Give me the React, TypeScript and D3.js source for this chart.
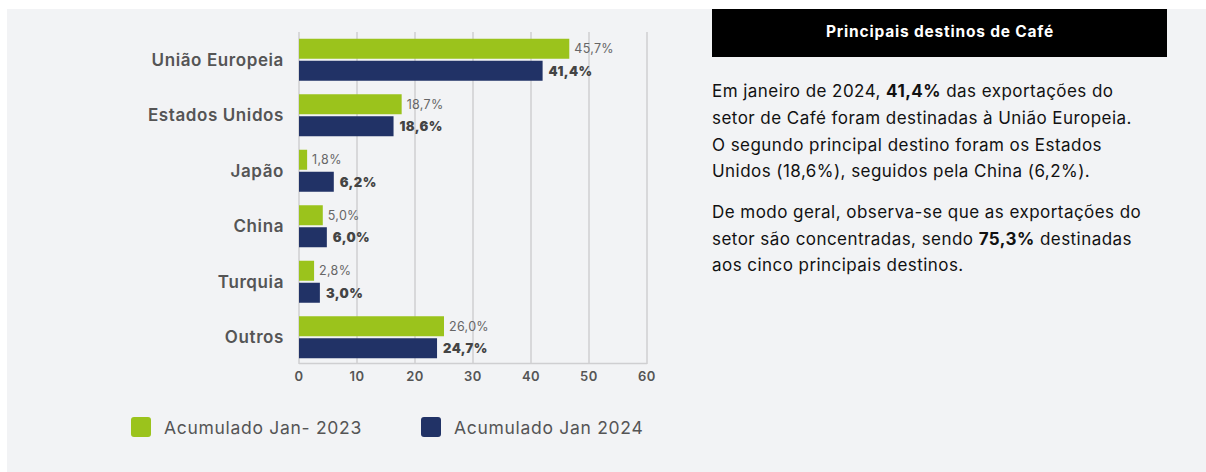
import React from 'react';
import { scaleLinear, scaleBand } from 'd3';

// destinos e valores (barras, rótulos como aparecem)
const categories = ['União Europeia', 'Estados Unidos', 'Japão', 'China', 'Turquia', 'Outros'];
const values2023 = [46.6, 17.7, 1.4, 4.1, 2.6, 25.0];
const values2024 = [42.0, 16.3, 6.0, 4.8, 3.6, 23.8];
const labels2023 = ['45,7%', '18,7%', '1,8%', '5,0%', '2,8%', '26,0%'];
const labels2024 = ['41,4%', '18,6%', '6,2%', '6,0%', '3,0%', '24,7%'];
const xTicks = [0, 10, 20, 30, 40, 50, 60];
const seriesNames = ['Acumulado Jan- 2023', 'Acumulado Jan 2024'];

const GREEN = '#9bc31c';
const NAVY = '#213266';
const FONT = 'Inter, "Open Sans", sans-serif';

export default function App() {
    const x = scaleLinear().domain([0, 60]).range([299, 647]);
    const y = scaleBand().domain(categories).range([32, 365]);
    const barH = 20;
    const gap = 2;

    return (
        <svg width={1206} height={472} style={{ position: 'absolute', left: 0, top: 0, background: '#fff' }}>
            <rect x={7} y={9} width={1199} height={463} fill="#f2f3f5" />

            {/* grid */}
            {xTicks.map(t => (
                <line key={t} x1={x(t)} x2={x(t)} y1={32} y2={364} stroke="#cfcfd1" strokeWidth={1.5} />
            ))}
            <line x1={x(0)} x2={x(60)} y1={363.5} y2={363.5} stroke="#cfcfd1" strokeWidth={1.5} />
            {xTicks.map(t => (
                <text key={t} x={x(t)} y={381} textAnchor="middle" fontFamily={FONT} fontSize={13}
                    fontWeight={600} fill="#555" letterSpacing={0.5}>{t}</text>
            ))}

            {categories.map((c, i) => {
                const cy = y(c) + y.bandwidth() / 2;
                const g = cy - gap / 2 - barH;
                const b = cy + gap / 2;
                return (
                    <g key={c}>
                        <text x={284} y={cy + 6} textAnchor="end" fontFamily={FONT} fontSize={17}
                            fontWeight={600} fill="#555" letterSpacing={0.6}>{c}</text>
                        <rect x={x(0)} y={g} width={x(values2023[i]) - x(0)} height={barH} fill={GREEN} />
                        <rect x={x(0)} y={b} width={x(values2024[i]) - x(0)} height={barH} fill={NAVY} />
                        <text x={x(values2023[i]) + 5} y={g + barH / 2 + 4.5} fontFamily={FONT} fontSize={12.5}
                            fill="#666" letterSpacing={0.3}>{labels2023[i]}</text>
                        <text x={x(values2024[i]) + 6} y={b + barH / 2 + 5} fontFamily={FONT} fontSize={13}
                            fontWeight={900} fill="#444" letterSpacing={0.4}>{labels2024[i]}</text>
                    </g>
                );
            })}

            {/* legenda */}
            <rect x={131} y={417} width={20} height={20} rx={3} fill={GREEN} />
            <text x={164} y={434} fontFamily={FONT} fontSize={17.5} fill="#555" letterSpacing={0.7}>{seriesNames[0]}</text>
            <rect x={421} y={417} width={20} height={20} rx={3} fill={NAVY} />
            <text x={454} y={434} fontFamily={FONT} fontSize={17.5} fill="#555" letterSpacing={0.7}>{seriesNames[1]}</text>

            {/* painel de texto */}
            <rect x={712} y={9} width={455} height={48} fill="#000" />
            <text x={940} y={37} textAnchor="middle" fontFamily={FONT} fontSize={15.5} fontWeight={700}
                fill="#fff" letterSpacing={0.8}>Principais destinos de Café</text>

            <g fontFamily={FONT} fontSize={17} fill="#111" letterSpacing={0.45}>
                <text x={712} y={97}>Em janeiro de 2024, <tspan fontWeight={700}>41,4%</tspan> das exportações do</text>
                <text x={712} y={124}>setor de Café foram destinadas à União Europeia.</text>
                <text x={712} y={150.5}>O segundo principal destino foram os Estados</text>
                <text x={712} y={177}>Unidos (18,6%), seguidos pela China (6,2%).</text>
                <text x={712} y={218}>De modo geral, observa-se que as exportações do</text>
                <text x={712} y={245}>setor são concentradas, sendo <tspan fontWeight={700}>75,3%</tspan> destinadas</text>
                <text x={712} y={271}>aos cinco principais destinos.</text>
            </g>
        </svg>
    );
}
